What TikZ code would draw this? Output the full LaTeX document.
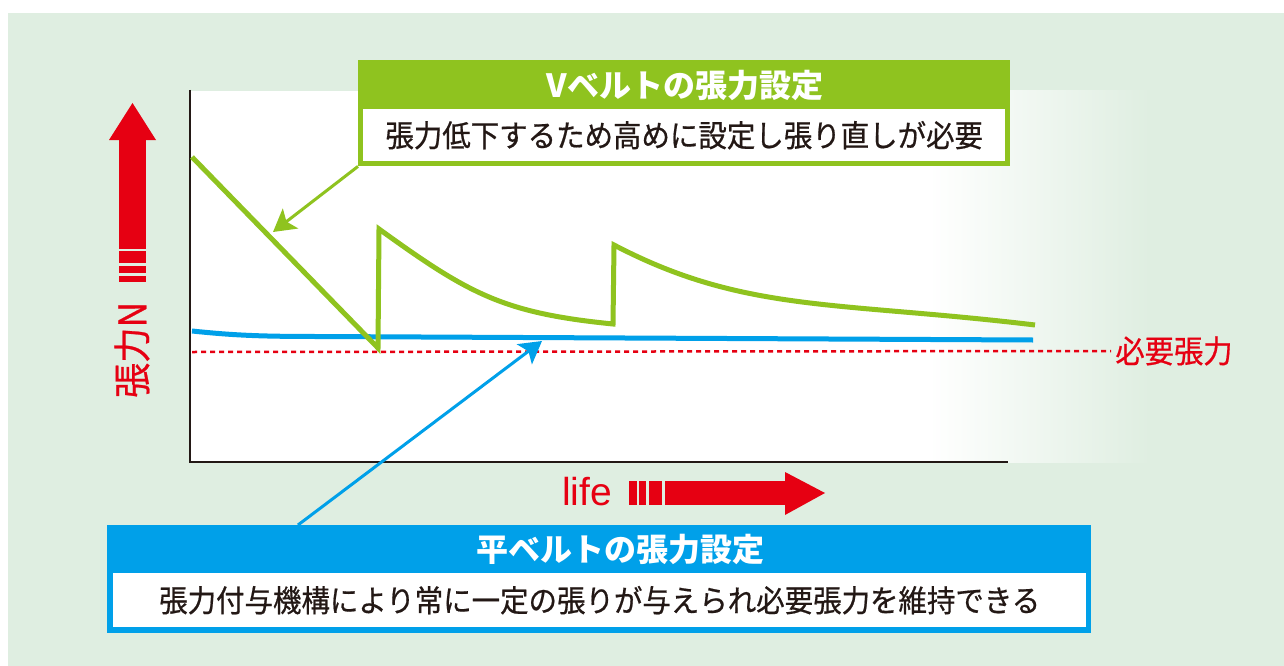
\documentclass[tikz,border=0pt]{standalone}
\usepackage{fontspec}
\setmainfont{Noto Sans CJK JP}
\newfontfamily\bodyfont[FakeStretch=0.93,FakeBold=0.6]{Noto Sans CJK JP}
\newfontfamily\lifefont{Liberation Sans}
\usetikzlibrary{arrows.meta,calc}
\definecolor{bggreen}{RGB}{223,238,225}
\definecolor{vgreen}{RGB}{143,195,31}
\definecolor{fblue}{RGB}{0,160,233}
\definecolor{tred}{RGB}{230,0,18}
\definecolor{inkdark}{RGB}{35,24,21}
\begin{document}
\begin{tikzpicture}[x=1pt,y=-1pt,
  pointer/.style={line width=3pt,-{Stealth[length=22pt,width=25pt,inset=5pt]}},
  curve/.style={line width=5pt,line join=miter},
  boxframe/.style={inner sep=0pt,anchor=north west},
  boxbody/.style={fill=white,inner sep=0pt,anchor=north west,text=inkdark,font=\bodyfont\fontsize{30.6}{34}\selectfont},
  boxtitle/.style={text=white,inner sep=0pt,font=\bfseries\fontsize{32}{36}\selectfont}]
\useasboundingbox (0,0) rectangle (1284,666);
\fill[bggreen] (8,13) rectangle (1284,666);
\fill[white] (190,91) rectangle (930,462);
\shade[left color=white,right color=bggreen] (929,91) rectangle (1150,462);
% axes
\draw[inkdark,line width=2.5pt] (190,90) -- (190,462) -- (1008,462);
% red axis arrows
\fill[tred] (119,140) rectangle (146,249);
\fill[tred] (109,140) -- (132.5,103) -- (156,140) -- cycle;
\foreach \a/\b in {251/263,266/273,276/282} \fill[tred] (119,\a) rectangle (146,\b);
\node[text=tred,rotate=90,font=\bodyfont\fontsize{38}{42}\selectfont] (ylabel) at (132,350) {張力N};
\fill[tred] (665,481) rectangle (785,505);
\fill[tred] (785,472) -- (825,493) -- (785,515) -- cycle;
\foreach \a/\b in {629/637,639/646,649/662} \fill[tred] (\a,481) rectangle (\b,505);
\node[text=tred,font=\lifefont\fontsize{39}{42}\selectfont,anchor=base] (xlabel) at (587,505.5) {life};
% required tension
\coordinate (reqstart) at (192,352);
\node[text=tred,font=\bodyfont\fontsize{31.5}{34}\selectfont,inner sep=4pt] (reqlabel) at (1174,351) {必要張力};
\draw[tred,line width=2.5pt,dash pattern=on 5pt off 4pt] (reqstart) -- (reqlabel.west);
% curves
\draw[curve,fblue] (192,331) .. controls (235,335.5) and (262,336.5) .. (320,336.5) -- (1033,340);
\draw[curve,vgreen] (192,157) -- (378,348) -- (379,229) .. controls (469,294) and (503,313) .. (613,324)
  -- (614,245) .. controls (744,313) and (835,301) .. (1035,325);
% V belt box
\node[boxframe,fill=vgreen,minimum width=652pt,minimum height=106pt] (vframe) at (358,60) {};
\node[boxbody,minimum width=642pt,minimum height=52pt] (vbody) at (363,109) {張力低下するため高めに設定し張り直しが必要};
\node[boxtitle] (vtitle) at (685,85) {Vベルトの張力設定};
\coordinate (vtip) at (273,232);
\draw[pointer,vgreen] (vframe.south west) -- (vtip);
% flat belt box
\node[boxframe,fill=fblue,minimum width=984pt,minimum height=108pt] (fframe) at (107,525) {};
\node[boxbody,minimum width=973pt,minimum height=54pt] (fbody) at (113,573) {張力付与機構により常に一定の張りが与えられ必要張力を維持できる};
\node[boxtitle] (ftitle) at (620,549) {平ベルトの張力設定};
\coordinate (ftip) at (542,341);
\draw[pointer,fblue] ($(fframe.north west)!0.194!(fframe.north east)$) -- (ftip);
\end{tikzpicture}
\end{document}
